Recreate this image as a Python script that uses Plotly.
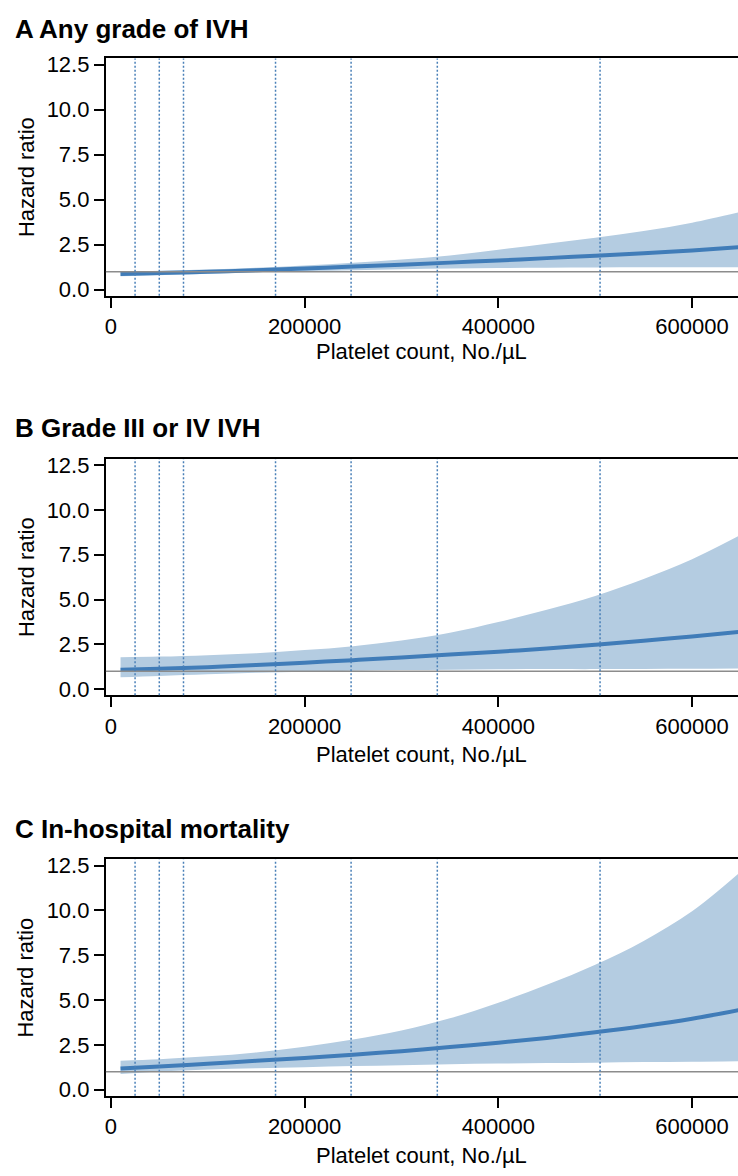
import plotly.graph_objects as go

# Platelet count grid (No./µL) at which the hazard ratios were read
platelets = [10000, 50000, 100000, 150000, 200000, 250000, 300000,
             350000, 400000, 450000, 500000, 550000, 600000, 650000]

# A: any grade of IVH
hr_any = [0.87, 0.92, 0.99, 1.08, 1.17, 1.28, 1.38, 1.50, 1.62, 1.75, 1.88, 2.02, 2.18, 2.37]
lo_any = [0.74, 0.80, 0.88, 0.97, 1.03, 1.08, 1.13, 1.17, 1.20, 1.22, 1.23, 1.24, 1.24, 1.25]
hi_any = [1.02, 1.05, 1.12, 1.22, 1.34, 1.49, 1.68, 1.90, 2.22, 2.55, 2.88, 3.25, 3.72, 4.32]

# B: grade III or IV IVH
hr_sev = [1.08, 1.14, 1.23, 1.35, 1.48, 1.62, 1.77, 1.93, 2.09, 2.27, 2.48, 2.70, 2.94, 3.20]
lo_sev = [0.66, 0.74, 0.83, 0.92, 0.98, 1.03, 1.07, 1.09, 1.11, 1.12, 1.12, 1.13, 1.14, 1.16]
hi_sev = [1.78, 1.82, 1.90, 2.01, 2.18, 2.40, 2.72, 3.15, 3.75, 4.43, 5.20, 6.15, 7.25, 8.60]

# C: in-hospital mortality
hr_mort = [1.18, 1.30, 1.45, 1.61, 1.77, 1.95, 2.15, 2.38, 2.62, 2.89, 3.20, 3.55, 3.96, 4.46]
lo_mort = [0.88, 1.02, 1.13, 1.20, 1.26, 1.32, 1.37, 1.42, 1.46, 1.49, 1.51, 1.54, 1.56, 1.59]
hi_mort = [1.62, 1.70, 1.86, 2.08, 2.40, 2.80, 3.30, 3.98, 4.85, 5.85, 6.97, 8.30, 9.95, 12.15]

# Percentile cut points of the platelet distribution
cut_points = [25000, 50000, 75000, 170000, 248000, 337000, 505000]

panel_titles = ["A Any grade of IVH", "B Grade III or IV IVH", "C In-hospital mortality"]
x_title = "Platelet count, No./µL"
y_title = "Hazard ratio"
x_ticks = [0, 200000, 400000, 600000]
x_ticktext = ["0", "200000", "400000", "600000"]
y_ticks = [0, 2.5, 5, 7.5, 10, 12.5]
y_ticktext = ["0.0", "2.5", "5.0", "7.5", "10.0", "12.5"]
reference_hr = 1

panels = [(hr_any, lo_any, hi_any), (hr_sev, lo_sev, hi_sev), (hr_mort, lo_mort, hi_mort)]

W, H = 738, 1176
FONT = "Liberation Sans, Arial, sans-serif"
BAND = "rgb(180,204,225)"
LINE = "rgb(64,124,184)"
DOT = "rgb(74,128,184)"

x_range = [-5150, 647400]
y_range = [-0.34, 12.84]
# frame top/bottom in pixels for each panel
frames = [(53, 293), (458, 697), (863, 1102)]
title_y = [23, 427, 832]
xlab_y = [349, 757, 1162]
x_left_px = 105

fig = go.Figure()
layout = dict(
    width=W, height=H,
    margin=dict(l=0, r=0, t=0, b=0),
    paper_bgcolor="white", plot_bgcolor="white",
    showlegend=False,
    font=dict(family=FONT, size=22, color="black"),
)

annotations = []
for i, (est, lo, hi) in enumerate(panels):
    n = "" if i == 0 else str(i + 1)
    xa, ya = "x" + n, "y" + n
    top, bot = frames[i]
    layout["xaxis" + n] = dict(
        domain=[x_left_px / W, 1], range=x_range, anchor=ya,
        showgrid=False, zeroline=False,
        showline=True, linecolor="black", linewidth=2, mirror=True,
        ticks="outside", ticklen=10, tickwidth=2, tickcolor="black",
        tickvals=x_ticks, ticktext=x_ticktext,
        tickfont=dict(size=22, family=FONT),
    )
    layout["yaxis" + n] = dict(
        domain=[1 - bot / H, 1 - top / H], range=y_range, anchor=xa,
        showgrid=False, zeroline=False,
        showline=True, linecolor="black", linewidth=2, mirror=False,
        ticks="outside", ticklen=10, tickwidth=2, tickcolor="black",
        tickvals=y_ticks, ticktext=y_ticktext,
        tickfont=dict(size=22, family=FONT),
    )

    # confidence band
    fig.add_trace(go.Scatter(x=platelets, y=lo, mode="lines", line=dict(width=0, shape="spline"),
                             xaxis=xa, yaxis=ya, hoverinfo="skip"))
    fig.add_trace(go.Scatter(x=platelets, y=hi, mode="lines", line=dict(width=0, shape="spline"),
                             fill="tonexty", fillcolor=BAND, xaxis=xa, yaxis=ya, hoverinfo="skip"))
    # hazard ratio estimate
    fig.add_trace(go.Scatter(x=platelets, y=est, mode="lines",
                             line=dict(color=LINE, width=4, shape="spline"),
                             xaxis=xa, yaxis=ya))

    # reference line at HR = 1
    fig.add_shape(type="line", xref=xa + " domain", yref=ya, x0=0, x1=1,
                  y0=reference_hr, y1=reference_hr,
                  line=dict(color="rgb(140,140,140)", width=1.5), layer="above")
    # cut point markers
    for c in cut_points:
        fig.add_shape(type="line", xref=xa, yref=ya + " domain", x0=c, x1=c, y0=0, y1=1,
                      line=dict(color=DOT, width=1.5, dash="2px,2px"), layer="above")

    annotations.append(dict(text="<b>" + panel_titles[i] + "</b>", xref="paper", yref="paper",
                            x=12 / W, y=1 - title_y[i] / H, xanchor="left", yanchor="middle",
                            showarrow=False, font=dict(size=26, family=FONT, color="black")))
    annotations.append(dict(text=y_title, xref="paper", yref="paper", textangle=-90,
                            x=25 / W, y=1 - (top + bot) / 2 / H, xanchor="center", yanchor="middle",
                            showarrow=False, font=dict(size=22, family=FONT, color="black")))
    annotations.append(dict(text=x_title, xref="paper", yref="paper",
                            x=(x_left_px + W) / 2 / W, y=1 - xlab_y[i] / H,
                            xanchor="center", yanchor="middle",
                            showarrow=False, font=dict(size=22, family=FONT, color="black")))

layout["annotations"] = annotations
fig.update_layout(**layout)
fig.write_html("out.html")
